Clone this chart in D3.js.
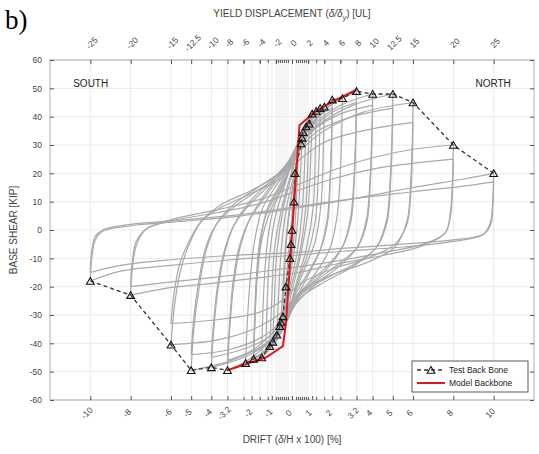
<!DOCTYPE html>
<html>
<head>
<meta charset="utf-8">
<script src="https://cdn.jsdelivr.net/npm/d3@7"></script>
<style>
  body { margin: 0; background: #fff; }
  text { font-family: "Liberation Sans", Arial, sans-serif; }
</style>
</head>
<body>
<svg id="chart" width="539" height="454"></svg>
<script>
// 1: DATA
const driftTicks = [-10, -8, -6, -5, -4, -3.2, -2, -1, 0, 1, 2, 3.2, 4, 5, 6, 8, 10];
const yieldTicks = [-25, -20, -15, -12.5, -10, -8, -6, -4, -2, 0, 2, 4, 6, 8, 10, 12.5, 15, 20, 25];
const minorDrift = [-2.4, -1.6, -1.2, -0.8, -0.7, -0.6, -0.5, -0.4, -0.3, -0.2, 0.2, 0.3, 0.4, 0.5, 0.6, 0.7, 0.8, 1.2, 1.6, 2.4];
const shearTicks = [-60, -50, -40, -30, -20, -10, 0, 10, 20, 30, 40, 50, 60];

// test back bone (triangles)
const testDrift = [-10, -8, -6, -5, -4, -3.2, -2.3, -1.9, -1.5, -1.1, -0.95, -0.75, -0.6, -0.55, -0.45, -0.3, -0.1, -0.05, 0, 0.1, 0.15, 0.45, 0.5, 0.55, 0.7, 0.85, 1.0, 1.2, 1.4, 1.6, 2.0, 2.5, 3.2, 4, 5, 6, 8, 10];
const testShear = [-18, -23, -40.5, -49.5, -48.5, -49.5, -47, -45.5, -45, -41, -39.5, -37, -34, -32.5, -30.5, -20, -10, -5, 0, 10, 20, 30.5, 32.5, 34.5, 36.5, 37.5, 41, 42, 43, 43.5, 46, 46.5, 49, 48, 48, 45, 30, 20];

// model backbone (red)
const modelDrift = [-3.2, -1.3, -0.45, -0.3, 0.37, 0.7, 1.2, 2.2, 3.2];
const modelShear = [-49.5, -45, -41, -33, 37, 39, 42, 46, 49.5];

// hysteresis cycles [drift %, shear kip]: + peak -> - peak -> + peak
const cycles = [
  [[0.15,20],[0.08,10],[-0.02,0],[-0.15,-10],[-0.3,-20],[-0.2,-10],[-0.06,0],[0.05,10],[0.15,20]],
  [[0.3,26],[0.24,14],[0.15,2],[0,-9],[-0.2,-19],[-0.45,-30],[-0.38,-16],[-0.27,-3],[-0.1,8],[0.1,17],[0.3,26]],
  [[0.5,32.5],[0.42,20],[0.3,5],[0.1,-8],[-0.15,-18],[-0.35,-26],[-0.55,-32.5],[-0.45,-20],[-0.32,-5],[-0.12,8],[0.1,18],[0.3,26],[0.5,32.5]],
  [[0.7,36.5],[0.62,22],[0.5,6],[0.25,-8],[-0.05,-18],[-0.35,-28],[-0.75,-37],[-0.66,-22],[-0.52,-6],[-0.27,8],[0.05,18],[0.35,28],[0.7,36.5]],
  [[0.85,38],[0.79,24],[0.67,7],[0.38,-8],[0,-19],[-0.35,-29],[-0.65,-35],[-0.95,-39.5],[-0.87,-24],[-0.74,-7],[-0.42,8],[-0.03,19],[0.32,29],[0.6,35],[0.85,38]],
  [[1.0,41],[0.92,24],[0.78,6],[0.45,-8],[0.05,-20],[-0.3,-30],[-0.7,-37],[-1.1,-41],[-1.0,-24],[-0.86,-6],[-0.5,8],[-0.05,20],[0.3,30],[0.65,37],[1.0,41]],
  [[1.2,42],[1.15,26],[1.05,8],[0.7,-7],[0.25,-18],[-0.15,-28],[-0.6,-36],[-1.0,-40.5],[-1.3,-43],[-1.24,-28],[-1.12,-10],[-0.85,4],[-0.4,15],[0.05,25],[0.45,33],[0.85,39],[1.2,42]],
  [[1.4,43],[1.36,30],[1.28,15],[1.15,3],[0.8,-8],[0.3,-18],[-0.1,-28],[-0.6,-37],[-1.1,-42],[-1.5,-45],[-1.45,-30],[-1.35,-15],[-1.2,-3],[-0.9,8],[-0.35,17],[0.1,27],[0.5,35],[1.0,40],[1.4,43]],
  [[1.6,43.5],[1.55,28],[1.45,10],[1.15,-4],[0.6,-14],[0.05,-24],[-0.45,-34],[-1.0,-40],[-1.5,-43.5],[-1.9,-45],[-1.83,-30],[-1.7,-14],[-1.45,-2],[-1.0,8],[-0.4,17],[0.1,26],[0.5,34],[1.0,39.5],[1.6,43.5]],
  [[2.0,46],[1.96,32],[1.88,17],[1.75,4],[1.4,-7],[0.8,-16],[0.15,-25],[-0.4,-34],[-1.0,-40],[-1.5,-43.5],[-1.9,-45.5],[-1.84,-32],[-1.74,-17],[-1.58,-5],[-1.25,7],[-0.6,16],[0,25],[0.45,33],[1.0,39],[1.5,43],[2.0,46]],
  [[2.0,43],[1.96,30],[1.89,16],[1.77,3],[1.4,-7],[0.8,-15],[0.15,-23],[-0.4,-32],[-1.0,-38],[-1.5,-41.5],[-1.9,-43],[-1.85,-30],[-1.76,-16],[-1.6,-4],[-1.25,6],[-0.6,15],[0,23],[0.45,31],[1.0,37],[1.5,41],[2.0,43]],
  [[2.5,46.5],[2.46,32],[2.37,17],[2.22,4],[1.85,-7],[1.1,-16],[0.3,-24],[-0.3,-33],[-0.9,-40],[-1.6,-44.5],[-2.3,-47],[-2.22,-33],[-2.08,-18],[-1.88,-5],[-1.5,7],[-0.85,15],[-0.1,23],[0.4,32],[1.0,38],[1.7,43],[2.5,46.5]],
  [[3.2,49],[3.16,34],[3.07,18],[2.9,4],[2.5,-6],[1.7,-14],[0.8,-20],[0,-27],[-0.5,-34],[-1.2,-40],[-2.1,-45.5],[-3.2,-49.5],[-3.1,-36],[-2.9,-20],[-2.6,-7],[-2.15,3],[-1.5,11],[-0.8,18],[0,26],[0.5,33],[1.2,39],[2.1,45],[3.2,49]],
  [[3.2,45],[3.16,31],[3.08,16],[2.92,3],[2.5,-6],[1.7,-13],[0.8,-19],[0,-25],[-0.5,-32],[-1.2,-38],[-2.1,-43],[-3.2,-46],[-3.1,-33],[-2.92,-18],[-2.62,-6],[-2.15,3],[-1.5,10],[-0.8,17],[0,24],[0.5,31],[1.2,37],[2.1,42],[3.2,45]],
  [[4,48],[3.96,34],[3.87,18],[3.7,4],[3.25,-6],[2.3,-13],[1.2,-19],[0.2,-26],[-0.4,-33],[-1.2,-40],[-2.4,-45],[-4,-48.5],[-3.88,-35],[-3.65,-20],[-3.3,-7],[-2.85,2],[-2.1,10],[-1.1,17],[-0.2,24],[0.4,32],[1.2,38],[2.4,44],[4,48]],
  [[4,44],[3.96,31],[3.88,16],[3.72,3],[3.25,-6],[2.3,-12],[1.2,-18],[0.2,-24],[-0.4,-31],[-1.2,-38],[-2.4,-42],[-4,-45],[-3.88,-32],[-3.66,-18],[-3.3,-6],[-2.85,2],[-2.1,9],[-1.1,16],[-0.2,23],[0.4,30],[1.2,36],[2.4,41],[4,44]],
  [[5,48],[4.96,34],[4.87,18],[4.7,4],[4.2,-6],[3.1,-12.5],[1.7,-18],[0.4,-24],[-0.4,-33],[-1.3,-40],[-3,-46],[-5,-49.5],[-4.87,-35],[-4.6,-20],[-4.25,-7],[-3.75,2],[-2.9,9],[-1.7,15],[-0.5,21],[0.3,29],[1.3,37],[3,44],[5,48]],
  [[5,43],[4.96,30],[4.88,16],[4.72,3],[4.2,-6],[3.1,-12],[1.7,-17],[0.4,-23],[-0.4,-31],[-1.3,-37],[-3,-42],[-5,-44],[-4.87,-31],[-4.62,-18],[-4.27,-6],[-3.75,2],[-2.9,8],[-1.7,14],[-0.5,20],[0.3,28],[1.3,35],[3,40],[5,43]],
  [[6,45],[5.96,30],[5.87,15],[5.7,3],[5.1,-6],[3.7,-11.5],[1.9,-16],[0.4,-22],[-0.5,-29],[-1.6,-34],[-3.5,-38.5],[-6,-40.5],[-5.85,-28],[-5.55,-15],[-5.1,-5],[-4.5,3],[-3.5,9],[-2,14],[-0.6,20],[0.4,28],[1.6,35],[3.5,41.5],[6,45]],
  [[6,38],[5.96,25],[5.88,12],[5.7,2],[5.1,-5],[3.7,-10],[1.9,-14],[0.4,-19],[-0.5,-25],[-1.6,-29],[-3.5,-31.5],[-6,-33],[-5.86,-23],[-5.57,-12],[-5.1,-4],[-4.5,3],[-3.5,8],[-2,13],[-0.6,18],[0.4,25],[1.6,31],[3.5,35],[6,38]],
  [[8,30],[7.96,18],[7.85,6],[7.6,-1],[6.5,-5.5],[4.5,-9],[2.2,-12],[0.3,-15],[-1.8,-17],[-4.2,-19],[-6.2,-20.5],[-8,-23],[-7.92,-14],[-7.7,-5],[-7.2,0.5],[-5.8,4],[-3.8,7],[-1.5,11],[0.3,16],[2,21],[4,25.5],[6,28.5],[8,30]],
  [[8,25],[7.96,15],[7.86,5],[7.6,-1],[6.5,-5],[4.5,-8],[2.2,-11],[0.3,-13],[-1.8,-15],[-4.2,-17],[-6.2,-18.5],[-8,-20],[-7.93,-12],[-7.72,-4],[-7.2,0.5],[-5.8,3.5],[-3.8,6],[-1.5,9.5],[0.3,14],[2,18],[4,21.5],[6,23.5],[8,25]],
  [[10,20],[9.96,11],[9.85,3],[9.5,-1.5],[8,-4],[5.5,-6],[2.5,-7.5],[0,-9],[-3,-10.5],[-6,-12.5],[-8.5,-14.5],[-10,-18],[-9.93,-10],[-9.75,-3.5],[-9.4,-0.5],[-8,1.5],[-5.5,3],[-2.5,5],[0,7.5],[3,11],[6,15],[8.5,18],[10,20]],
  [[10,17],[9.96,9],[9.86,2],[9.5,-1.5],[8,-3.5],[5.5,-5],[2.5,-6.5],[0,-8],[-3,-9],[-6,-10.5],[-8.5,-12.5],[-10,-15],[-9.94,-8],[-9.77,-2.5],[-9.4,0],[-8,2],[-5.5,3.5],[-2.5,5.5],[0,8],[3,11],[6,13.5],[8.5,15.5],[10,17]]
];

// 2: LAYOUT
const margin = { top: 60, right: 5, bottom: 54, left: 50 };
const width = 539 - margin.left - margin.right;
const height = 454 - margin.top - margin.bottom;

const svg = d3.select("#chart");
const g = svg.append("g").attr("transform", `translate(${margin.left},${margin.top})`);

// 3: SCALES
const x = d3.scaleLinear().domain([-12, 12]).range([0, width]);
const xTop = d3.scaleLinear().domain([-30, 30]).range([0, width]);
const y = d3.scaleLinear().domain([-60, 60]).range([height, 0]);

// 4: GRID
const gridX = Array.from(new Set([...driftTicks, ...yieldTicks.map(v => v / 2.5), ...minorDrift]));
g.append("g").selectAll("line").data(gridX).enter().append("line")
  .attr("x1", d => x(d)).attr("x2", d => x(d))
  .attr("y1", 0).attr("y2", height)
  .attr("stroke", "#e2e2e2").attr("stroke-width", 0.7);
g.append("g").selectAll("line").data(shearTicks).enter().append("line")
  .attr("x1", 0).attr("x2", width)
  .attr("y1", d => y(d)).attr("y2", d => y(d))
  .attr("stroke", "#e2e2e2").attr("stroke-width", 0.7);

// 5: HYSTERESIS LOOPS (split each cycle at the negative peak)
const branchLine = d3.line()
  .x(d => x(d[0])).y(d => y(d[1]))
  .curve(d3.curveCatmullRom.alpha(0.5));
const branches = [];
cycles.forEach(c => {
  const k = d3.minIndex(c, d => d[0]);
  branches.push(c.slice(0, k + 1), c.slice(k));
});
g.append("g").selectAll("path").data(branches).enter().append("path")
  .attr("d", branchLine)
  .attr("fill", "none")
  .attr("stroke", "#a9a9a9")
  .attr("stroke-width", 1.2);

// 6: BACKBONES
const testPts = testDrift.map((d, i) => [d, testShear[i]]);
const modelPts = modelDrift.map((d, i) => [d, modelShear[i]]);
const straight = d3.line().x(d => x(d[0])).y(d => y(d[1]));

g.append("path").datum(testPts)
  .attr("d", straight)
  .attr("fill", "none").attr("stroke", "#333")
  .attr("stroke-width", 1.3).attr("stroke-dasharray", "4,3");

g.append("path").datum(modelPts)
  .attr("d", straight)
  .attr("fill", "none").attr("stroke", "#e3141b")
  .attr("stroke-width", 2);

const tri = d3.symbol().type(d3.symbolTriangle).size(26);
g.append("g").selectAll("path").data(testPts).enter().append("path")
  .attr("d", tri)
  .attr("transform", d => `translate(${x(d[0])},${y(d[1]) + 1})`)
  .attr("fill", "none").attr("stroke", "#111").attr("stroke-width", 1.1);

// 7: AXES
g.append("rect").attr("width", width).attr("height", height)
  .attr("fill", "none").attr("stroke", "#9a9a9a").attr("stroke-width", 0.8);

const styleAxis = sel => {
  sel.select(".domain").remove();
  sel.selectAll("line").attr("stroke", "#555");
  sel.selectAll("text").attr("fill", "#444").style("font-size", "8.5px");
};

// bottom (drift)
const axB = g.append("g").attr("transform", `translate(0,${height})`)
  .call(d3.axisBottom(x).tickValues(driftTicks).tickSize(-4).tickFormat(d => String(d)))
  .call(styleAxis);
axB.selectAll("text")
  .attr("x", 0).attr("y", 0).attr("dy", "0.35em")
  .attr("transform", "translate(-4,13) rotate(-45)")
  .style("text-anchor", "middle");
g.append("g").attr("transform", `translate(0,${height})`)
  .call(d3.axisBottom(x).tickValues(minorDrift).tickSize(-3).tickFormat(""))
  .call(styleAxis);

// top (yield displacement)
const axT = g.append("g")
  .call(d3.axisTop(xTop).tickValues(yieldTicks).tickSize(-4).tickFormat(d => String(d)))
  .call(styleAxis);
axT.selectAll("text")
  .attr("x", 0).attr("y", 0).attr("dy", "0.35em")
  .attr("transform", "translate(1,-17) rotate(-45)")
  .style("text-anchor", "middle");
g.append("g")
  .call(d3.axisTop(x).tickValues(minorDrift).tickSize(-3).tickFormat(""))
  .call(styleAxis);

// left / right (shear)
g.append("g")
  .call(d3.axisLeft(y).tickValues(shearTicks).tickSize(-4).tickPadding(8).tickFormat(d => String(d)))
  .call(styleAxis);
g.append("g").attr("transform", `translate(${width},0)`)
  .call(d3.axisRight(y).tickValues(shearTicks).tickSize(-4).tickFormat(""))
  .call(styleAxis);

// 8: LABELS
svg.append("text")
  .attr("x", 5).attr("y", 29)
  .style("font-family", "'Liberation Serif', 'Times New Roman', serif")
  .style("font-size", "27px").attr("fill", "#000")
  .text("b)");

const topTitle = svg.append("text")
  .attr("x", 292).attr("y", 17).attr("text-anchor", "middle")
  .style("font-size", "10px").attr("fill", "#444");
topTitle.append("tspan").text("YIELD DISPLACEMENT (");
topTitle.append("tspan").style("font-style", "italic").text("δ/δ");
topTitle.append("tspan").attr("dy", 3).style("font-size", "7px").style("font-style", "italic").text("y");
topTitle.append("tspan").attr("dy", -3).text(") [UL]");

const botTitle = svg.append("text")
  .attr("x", 292).attr("y", 443).attr("text-anchor", "middle")
  .style("font-size", "10px").attr("fill", "#444");
botTitle.append("tspan").text("DRIFT (");
botTitle.append("tspan").style("font-style", "italic").text("δ");
botTitle.append("tspan").text("/H x 100) [%]");

svg.append("text")
  .attr("transform", `translate(17,${margin.top + height / 2}) rotate(-90)`)
  .attr("text-anchor", "middle")
  .style("font-size", "10px").attr("fill", "#444")
  .text("BASE SHEAR [KIP]");

g.append("text").attr("x", x(-10.85)).attr("y", y(50.5))
  .style("font-size", "10px").attr("fill", "#222").text("SOUTH");
g.append("text").attr("x", x(10.85)).attr("y", y(50.5)).attr("text-anchor", "end")
  .style("font-size", "10px").attr("fill", "#222").text("NORTH");

// 9: LEGEND
const leg = svg.append("g").attr("transform", "translate(412,361)");
leg.append("rect").attr("width", 116).attr("height", 31)
  .attr("fill", "#fff").attr("stroke", "#333").attr("stroke-width", 0.8);
leg.append("line").attr("x1", 5).attr("x2", 33).attr("y1", 9).attr("y2", 9)
  .attr("stroke", "#333").attr("stroke-width", 1.3).attr("stroke-dasharray", "4,3");
leg.append("path").attr("d", tri).attr("transform", "translate(19,10)")
  .attr("fill", "none").attr("stroke", "#111").attr("stroke-width", 1.1);
leg.append("text").attr("x", 37).attr("y", 12)
  .style("font-size", "8.5px").attr("fill", "#222").text("Test Back Bone");
leg.append("line").attr("x1", 5).attr("x2", 33).attr("y1", 22).attr("y2", 22)
  .attr("stroke", "#e3141b").attr("stroke-width", 2);
leg.append("text").attr("x", 37).attr("y", 25)
  .style("font-size", "8.5px").attr("fill", "#222").text("Model Backbone");
</script>
</body>
</html>
